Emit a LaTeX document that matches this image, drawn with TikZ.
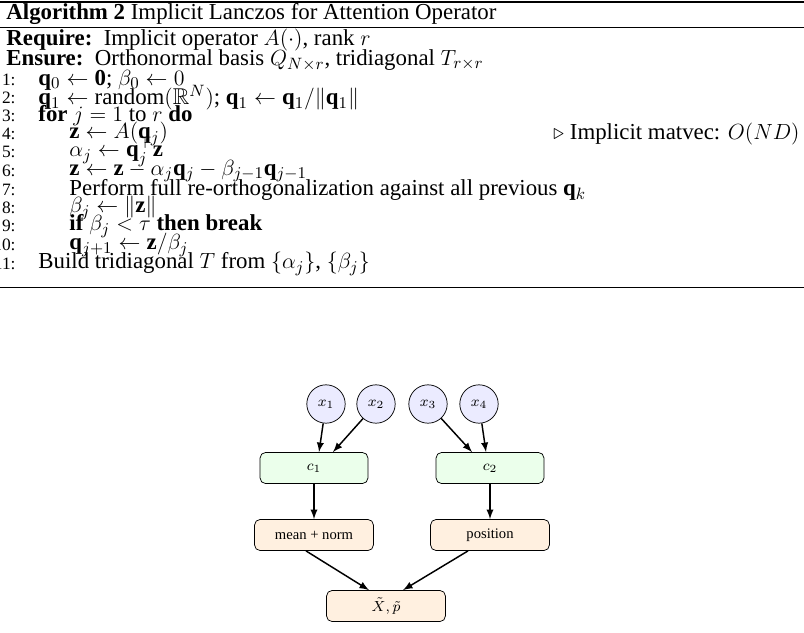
\documentclass[tikz,border=0pt]{standalone}
\usepackage{amssymb}
\usepackage{amsmath}
\usepackage{fontspec}
\setmainfont{Liberation Serif}
\usetikzlibrary{calc}
\tikzset{
  every node/.style={font=\fontsize{12.5}{15}\selectfont},
  ln/.style={anchor=east, font=\fontsize{9.5}{11}\selectfont},
  tx/.style={anchor=west},
  var/.style={circle, draw, fill=blue!8, minimum size=21pt, inner sep=0pt, font=\fontsize{8}{10}\selectfont},
  grp/.style={rectangle, rounded corners=3pt, draw, fill=green!8, minimum width=59pt, minimum height=17pt, font=\fontsize{8}{10}\selectfont},
  res/.style={rectangle, rounded corners=3pt, draw, fill=orange!12, minimum width=65pt, minimum height=17pt, font=\fontsize{8}{10}\selectfont},
  arr/.style={-latex, thick}
}
\begin{document}
\begin{tikzpicture}[x=0.547pt, y=-0.547pt]
\useasboundingbox (0,0) rectangle (804,632);
% algorithm box
\draw[thick] (0,2) -- (804,2);
\draw (0,27) -- (804,27);
\draw (0,287) -- (804,287);
\node[tx] (ttl) at (0,14) {\textbf{Algorithm 2} Implicit Lanczos for Attention Operator};
\node[tx] (req) at (0,40) {\textbf{Require:}\ \ Implicit operator $A(\cdot)$, rank $r$};
\node[tx] (ens) at (0,60) {\textbf{Ensure:}\ \ Orthonormal basis $Q_{N\times r}$, tridiagonal $T_{r\times r}$};
\node[ln] at (22,80) {1:};  \node[tx] at (32,80) {$\mathbf{q}_0 \leftarrow \mathbf{0}$; $\beta_0 \leftarrow 0$};
\node[ln] at (22,98) {2:};  \node[tx] at (32,98) {$\mathbf{q}_1 \leftarrow \mathrm{random}(\mathbb{R}^N)$; $\mathbf{q}_1 \leftarrow \mathbf{q}_1/\|\mathbf{q}_1\|$};
\node[ln] at (22,116) {3:}; \node[tx] at (32,116) {\textbf{for} $j=1$ to $r$ \textbf{do}};
\node[ln] at (22,134) {4:}; \node[tx] at (63,134) {$\mathbf{z} \leftarrow A(\mathbf{q}_j)$};
\node[anchor=east] (cmt) at (806,134) {$\triangleright$ Implicit matvec: $O(ND)$};
\node[ln] at (22,152) {5:}; \node[tx] at (63,152) {$\alpha_j \leftarrow \mathbf{q}_j^\top \mathbf{z}$};
\node[ln] at (22,171) {6:}; \node[tx] at (63,171) {$\mathbf{z} \leftarrow \mathbf{z} - \alpha_j\mathbf{q}_j - \beta_{j-1}\mathbf{q}_{j-1}$};
\node[ln] at (22,190) {7:}; \node[tx] at (63,190) {Perform full re-orthogonalization against all previous $\mathbf{q}_k$};
\node[ln] at (22,208) {8:}; \node[tx] at (63,208) {$\beta_j \leftarrow \|\mathbf{z}\|$};
\node[ln] at (22,226) {9:}; \node[tx] at (63,226) {\textbf{if} $\beta_j < \tau$ \textbf{then break}};
\node[ln] at (22,245) {10:}; \node[tx] at (63,245) {$\mathbf{q}_{j+1} \leftarrow \mathbf{z}/\beta_j$};
\node[ln] at (22,264) {11:}; \node[tx] at (32,264) {Build tridiagonal $T$ from $\{\alpha_j\}$, $\{\beta_j\}$};
% diagram
\node[var] (x1) at (326,404) {$x_1$};
\node[var] (x2) at (376,404) {$x_2$};
\node[var] (x3) at (428,404) {$x_3$};
\node[var] (x4) at (479,404) {$x_4$};
\node[grp] (c1) at (314,468) {$c_1$};
\node[grp] (c2) at (490,468) {$c_2$};
\node[res] (mn) at (314,535) {mean + norm};
\node[res] (pos) at (490,535) {position};
\node[res] (xp) at (386,606) {$\tilde{X}, \tilde{p}$};
\draw[arr] (x1) -- ($(c1.north)+(5,0)$);
\draw[arr] (x2) -- ($(c1.north)+(19,0)$);
\draw[arr] (x3) -- ($(c2.north)+(-18,0)$);
\draw[arr] (x4) -- ($(c2.north)+(-4,0)$);
\draw[arr] (c1) -- (mn);
\draw[arr] (c2) -- (pos);
\draw[arr] ($(mn.south)+(-8,0)$) -- ($(xp.north)+(-17,0)$);
\draw[arr] ($(pos.south)+(-22,0)$) -- ($(xp.north)+(17,0)$);
\end{tikzpicture}
\end{document}
